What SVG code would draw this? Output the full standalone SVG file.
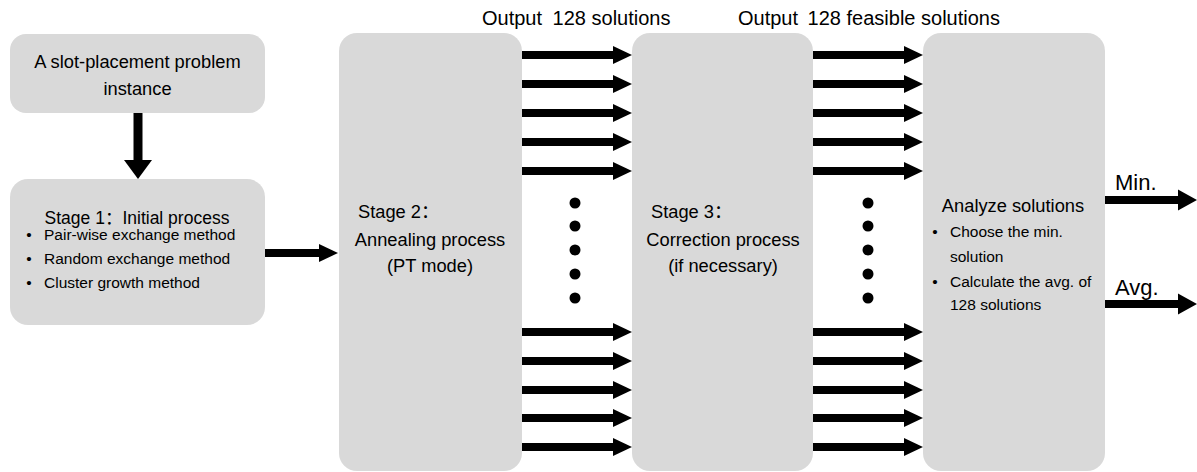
<svg xmlns="http://www.w3.org/2000/svg" width="1197" height="472" viewBox="0 0 1197 472">
  <style>
    .box { fill: #d9d9d9; }
    text { font-family: "Liberation Sans", Arial, "Noto Sans CJK SC", sans-serif; fill: #000; }
    .t18 { font-size: 18.3px; }
    .t175 { font-size: 17.5px; }
    .t15 { font-size: 15.5px; }
    .t20 { font-size: 20px; }
    .t21 { font-size: 22px; }
    .mid { text-anchor: middle; }
    .shaft { stroke: #000; stroke-width: 8; fill: none; }
    .vshaft { stroke: #000; stroke-width: 9; fill: none; }
    .dot { fill: #000; }
  </style>
  <defs>
    <marker id="head" markerUnits="userSpaceOnUse" markerWidth="20" markerHeight="18" refX="1" refY="9" orient="auto" overflow="visible">
      <path d="M0,0 L19,9 L0,18 Z" fill="#000"/>
    </marker>
    <marker id="headBig" markerUnits="userSpaceOnUse" markerWidth="20" markerHeight="22" refX="1" refY="10.5" orient="auto" overflow="visible">
      <path d="M0,0 L19,10.5 L0,21 Z" fill="#000"/>
    </marker>
    <marker id="headDown" markerUnits="userSpaceOnUse" markerWidth="30" markerHeight="20" refX="1" refY="14" orient="auto" overflow="visible">
      <path d="M0,0 L19,14 L0,28 Z" fill="#000"/>
    </marker>
  </defs>

  <!-- Headings above the arrow bundles -->
  <text class="t20" x="482" y="25">Output <tspan dx="5">128 solutions</tspan></text>
  <text class="t20" x="738" y="25">Output <tspan dx="4">128 feasible solutions</tspan></text>

  <g id="instance">
    <rect class="box" x="10" y="34" width="255" height="79" rx="16"/>
    <text class="t18 mid" x="137.5" y="68">A slot-placement problem</text>
    <text class="t18 mid" x="137.5" y="95">instance</text>
  </g>

  <g id="stage1">
    <rect class="box" x="10" y="179" width="255" height="146" rx="18"/>
    <text class="t175 mid" x="137" y="224">Stage 1：Initial process</text>
    <text class="t15 mid" x="29" y="240">•</text>
    <text class="t15" x="44" y="240">Pair-wise exchange method</text>
    <text class="t15 mid" x="29" y="264">•</text>
    <text class="t15" x="44" y="264">Random exchange method</text>
    <text class="t15 mid" x="29" y="288">•</text>
    <text class="t15" x="44" y="288">Cluster growth method</text>
  </g>

  <g id="stage2">
    <rect class="box" x="339" y="33" width="183" height="438" rx="18"/>
    <text class="t18" x="358" y="218">Stage 2：</text>
    <text class="t18 mid" x="430" y="246">Annealing process</text>
    <text class="t18 mid" x="430" y="272">(PT mode)</text>
  </g>

  <g id="stage3">
    <rect class="box" x="632" y="33" width="181" height="438" rx="18"/>
    <text class="t18" x="651" y="218">Stage 3：</text>
    <text class="t18 mid" x="723" y="246">Correction process</text>
    <text class="t18 mid" x="723" y="272">(if necessary)</text>
  </g>

  <g id="analyze">
    <rect class="box" x="923" y="33" width="182" height="438" rx="18"/>
    <text class="t18 mid" x="1013" y="212">Analyze solutions</text>
    <text class="t15 mid" x="935" y="237">•</text>
    <text class="t15" x="950" y="237">Choose the min.</text>
    <text class="t15" x="950" y="262">solution</text>
    <text class="t15 mid" x="935" y="287">•</text>
    <text class="t15" x="950" y="287">Calculate the avg. of</text>
    <text class="t15" x="950" y="310">128 solutions</text>
  </g>

  <g id="connectors">
    <!-- instance to stage 1 -->
    <line class="vshaft" x1="138" y1="113" x2="138" y2="161" marker-end="url(#headDown)"/>
    <!-- stage 1 to stage 2 -->
    <line class="shaft" x1="265" y1="253" x2="320" y2="253" marker-end="url(#head)"/>

    <!-- stage 2 to stage 3 bundle -->
    <line class="shaft" x1="522" y1="55" x2="614" y2="55" marker-end="url(#head)"/>
    <line class="shaft" x1="522" y1="84" x2="614" y2="84" marker-end="url(#head)"/>
    <line class="shaft" x1="522" y1="113" x2="614" y2="113" marker-end="url(#head)"/>
    <line class="shaft" x1="522" y1="142" x2="614" y2="142" marker-end="url(#head)"/>
    <line class="shaft" x1="522" y1="171" x2="614" y2="171" marker-end="url(#head)"/>
    <line class="shaft" x1="522" y1="332" x2="614" y2="332" marker-end="url(#head)"/>
    <line class="shaft" x1="522" y1="361" x2="614" y2="361" marker-end="url(#head)"/>
    <line class="shaft" x1="522" y1="390" x2="614" y2="390" marker-end="url(#head)"/>
    <line class="shaft" x1="522" y1="418" x2="614" y2="418" marker-end="url(#head)"/>
    <line class="shaft" x1="522" y1="447" x2="614" y2="447" marker-end="url(#head)"/>

    <!-- stage 3 to analysis bundle -->
    <line class="shaft" x1="813" y1="55" x2="905" y2="55" marker-end="url(#head)"/>
    <line class="shaft" x1="813" y1="84" x2="905" y2="84" marker-end="url(#head)"/>
    <line class="shaft" x1="813" y1="113" x2="905" y2="113" marker-end="url(#head)"/>
    <line class="shaft" x1="813" y1="142" x2="905" y2="142" marker-end="url(#head)"/>
    <line class="shaft" x1="813" y1="171" x2="905" y2="171" marker-end="url(#head)"/>
    <line class="shaft" x1="813" y1="332" x2="905" y2="332" marker-end="url(#head)"/>
    <line class="shaft" x1="813" y1="361" x2="905" y2="361" marker-end="url(#head)"/>
    <line class="shaft" x1="813" y1="390" x2="905" y2="390" marker-end="url(#head)"/>
    <line class="shaft" x1="813" y1="418" x2="905" y2="418" marker-end="url(#head)"/>
    <line class="shaft" x1="813" y1="447" x2="905" y2="447" marker-end="url(#head)"/>

    <!-- ellipsis dots between bundles -->
    <circle class="dot" cx="575" cy="203" r="5.5"/>
    <circle class="dot" cx="575" cy="226" r="5.5"/>
    <circle class="dot" cx="575" cy="250" r="5.5"/>
    <circle class="dot" cx="575" cy="274" r="5.5"/>
    <circle class="dot" cx="575" cy="298" r="5.5"/>
    <circle class="dot" cx="868" cy="203" r="5.5"/>
    <circle class="dot" cx="868" cy="226" r="5.5"/>
    <circle class="dot" cx="868" cy="250" r="5.5"/>
    <circle class="dot" cx="868" cy="274" r="5.5"/>
    <circle class="dot" cx="868" cy="298" r="5.5"/>

    <!-- outputs -->
    <line class="shaft" x1="1105" y1="200" x2="1179" y2="200" marker-end="url(#headBig)"/>
    <text class="t21" x="1115" y="190">Min.</text>
    <line class="shaft" x1="1105" y1="304" x2="1179" y2="304" marker-end="url(#headBig)"/>
    <text class="t21" x="1115" y="295">Avg.</text>
  </g>
</svg>
